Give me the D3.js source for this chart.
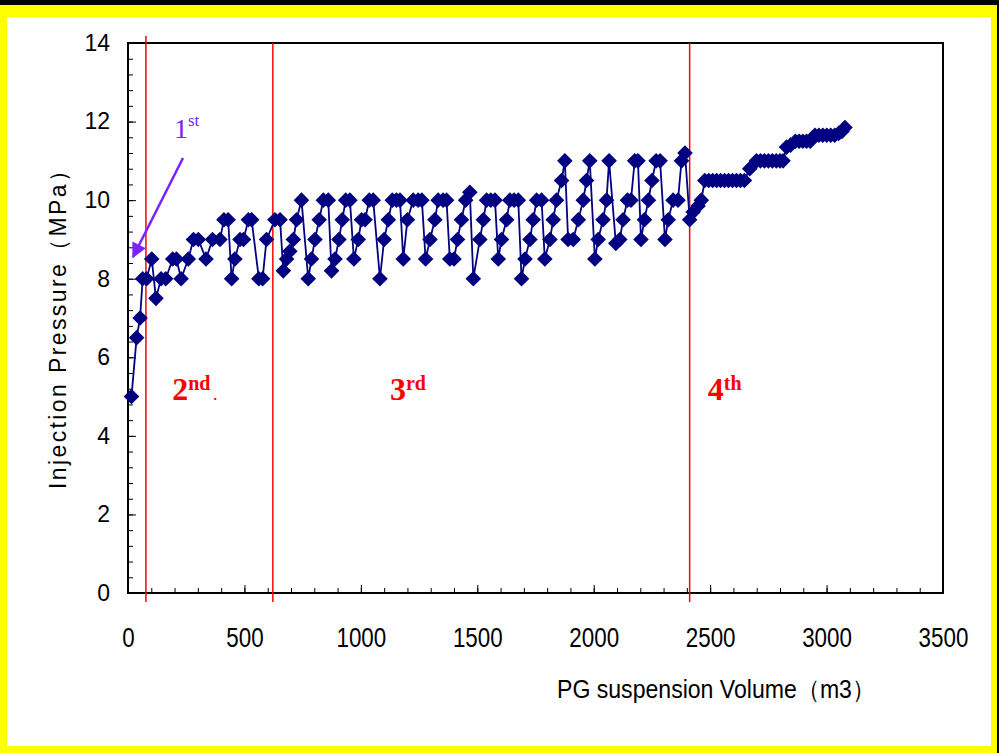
<!DOCTYPE html>
<html>
<head>
<meta charset="utf-8">
<script src="https://cdn.jsdelivr.net/npm/d3@7"></script>
<style>
  body { margin: 0; background: #000; }
  svg { display: block; }
</style>
</head>
<body>
<div class="container"></div>
<script>
// injected PG suspension volume (m3) and wellhead pressure (MPa)
var volume = [
  15, 37, 52, 63, 80,
  102, 120, 142, 162, 192, 208, 228, 259, 281, 302, 335, 363, 395, 412, 430, 445,
  459, 481, 496, 517, 531, 562, 578, 595, 631, 653,
  667, 681, 695, 710, 724, 745,
  774, 788, 803, 821, 839, 860,
  874, 889, 906, 920, 935, 953,
  970, 989, 1003, 1018, 1036, 1053,
  1082, 1100, 1118, 1135, 1153, 1168,
  1182, 1200, 1225, 1246, 1262,
  1278, 1297, 1318, 1332, 1353, 1368,
  1382, 1400, 1415, 1432, 1450, 1468,
  1483, 1511, 1526, 1540, 1558, 1576,
  1590, 1604, 1626, 1640, 1658, 1676,
  1690, 1705, 1726, 1740, 1755, 1776,
  1790, 1812, 1826, 1840, 1862, 1876,
  1890, 1912, 1934, 1955, 1969, 1983,
  2005, 2019, 2040, 2055, 2066,
  2095, 2112, 2126, 2145, 2160, 2176, 2190,
  2203, 2218, 2235, 2250, 2268, 2285,
  2306, 2320, 2341, 2362, 2377, 2392,
  2412, 2427, 2448, 2462, 2477,
  2494, 2511, 2528, 2545, 2562, 2579, 2596, 2613, 2630, 2647,
  2670, 2699, 2716, 2733, 2750, 2767, 2784, 2800, 2813,
  2828, 2845, 2866, 2882, 2898, 2914, 2930,
  2950, 2967, 2984, 3001, 3018, 3035, 3052,
  3066, 3079
];
var pressure = [
  5.0, 6.5, 7.0, 8.0, 8.0,
  8.5, 7.5, 8.0, 8.0, 8.5, 8.5, 8.0, 8.5, 9.0, 9.0, 8.5, 9.0, 9.0, 9.5, 9.5, 8.0,
  8.5, 9.0, 9.0, 9.5, 9.5, 8.0, 8.0, 9.0, 9.5, 9.5,
  8.2, 8.5, 8.7, 9.0, 9.5, 10.0,
  8.0, 8.5, 9.0, 9.5, 10.0, 10.0,
  8.2, 8.5, 9.0, 9.5, 10.0, 10.0,
  8.5, 9.0, 9.5, 9.5, 10.0, 10.0,
  8.0, 9.0, 9.5, 10.0, 10.0, 10.0,
  8.5, 9.5, 10.0, 10.0, 10.0,
  8.5, 9.0, 9.5, 10.0, 10.0, 10.0,
  8.5, 8.5, 9.0, 9.5, 10.0, 10.2,
  8.0, 9.0, 9.5, 10.0, 10.0, 10.0,
  8.5, 9.0, 9.5, 10.0, 10.0, 10.0,
  8.0, 8.5, 9.0, 9.5, 10.0, 10.0,
  8.5, 9.0, 9.5, 10.0, 10.5, 11.0,
  9.0, 9.0, 9.5, 10.0, 10.5, 11.0,
  8.5, 9.0, 9.5, 10.0, 11.0,
  8.9, 9.0, 9.5, 10.0, 10.0, 11.0, 11.0,
  9.0, 9.5, 10.0, 10.5, 11.0, 11.0,
  9.0, 9.5, 10.0, 10.0, 11.0, 11.2,
  9.5, 9.7, 9.85, 10.0, 10.5,
  10.5, 10.5, 10.5, 10.5, 10.5, 10.5, 10.5, 10.5, 10.5, 10.5,
  10.8, 11.0, 11.0, 11.0, 11.0, 11.0, 11.0, 11.0, 11.0,
  11.35, 11.4, 11.5, 11.5, 11.5, 11.5, 11.5,
  11.65, 11.65, 11.65, 11.65, 11.65, 11.65, 11.7,
  11.75, 11.85
];

var xTicks = [0, 500, 1000, 1500, 2000, 2500, 3000, 3500];
var yTicks = [0, 2, 4, 6, 8, 10, 12, 14];

// stage boundaries (m3) and stage labels
var stageLines = [77, 622, 2412];
var stageNames = ["2", "3", "4"];
var stageSups = ["nd", "rd", "th"];
var stageAt = [190, 1125, 2490];

var W = 999, H = 753;
var svg = d3.select('.container').append('svg')
    .attr('width', W).attr('height', H);

// slide border: black top, yellow frame, white page
svg.append('rect').attr('width', W).attr('height', H).attr('fill', '#000');
svg.append('rect').attr('x', 0).attr('y', 5).attr('width', 997).attr('height', H - 5).attr('fill', '#ffff00');
svg.append('rect').attr('x', 7).attr('y', 17).attr('width', 984).attr('height', 729).attr('fill', '#fff');

var x = d3.scaleLinear().domain([0, 3500]).range([128, 943]);
var y = d3.scaleLinear().domain([0, 14]).range([593, 43]);

// minor ticks
svg.append('g')
    .attr('transform', 'translate(0,593)')
    .call(d3.axisBottom(x).tickValues(d3.range(0, 3501, 100)).tickSize(-5).tickFormat(''))
    .call(function(g) { g.select('.domain').remove(); });
svg.append('g')
    .attr('transform', 'translate(128,0)')
    .call(d3.axisLeft(y).tickValues(d3.range(0, 14.01, 0.4)).tickSize(-5).tickFormat(''))
    .call(function(g) { g.select('.domain').remove(); });

// major ticks + labels
var xAxis = svg.append('g')
    .attr('transform', 'translate(0,593)')
    .call(d3.axisBottom(x).tickValues(xTicks).tickSize(-8).tickPadding(34).tickFormat(d3.format('d')));
xAxis.select('.domain').remove();
xAxis.selectAll('text')
    .attr('font-family', '"Liberation Sans", Arial, sans-serif')
    .attr('font-size', 28).attr('fill', '#000')
    .attr('transform', 'scale(0.8,1)');

var yAxis = svg.append('g')
    .attr('transform', 'translate(128,0)')
    .call(d3.axisLeft(y).tickValues(yTicks).tickSize(-8).tickPadding(18));
yAxis.select('.domain').remove();
yAxis.selectAll('text')
    .attr('font-family', '"Liberation Sans", Arial, sans-serif')
    .attr('font-size', 23).attr('fill', '#000');

svg.selectAll('.tick line').attr('stroke', '#000').attr('stroke-width', 1);

// plot frame
svg.append('rect')
    .attr('x', 128).attr('y', 43).attr('width', 815).attr('height', 550)
    .attr('fill', 'none').attr('stroke', '#000').attr('stroke-width', 2);

// stage dividers
svg.selectAll('line.stage').data(stageLines).enter().append('line')
    .attr('class', 'stage')
    .attr('x1', function(d) { return x(d); })
    .attr('x2', function(d) { return x(d); })
    .attr('y1', function(d, i) { return i == 0 ? 36 : 43; })
    .attr('y2', 602)
    .attr('stroke', '#ff0000').attr('stroke-width', 1.5);

// series
var pts = volume.map(function(v, i) { return [v, pressure[i]]; });
var line = d3.line()
    .x(function(d) { return x(d[0]); })
    .y(function(d) { return y(d[1]); });

svg.append('path')
    .datum(pts)
    .attr('d', line)
    .attr('fill', 'none')
    .attr('stroke', '#000080')
    .attr('stroke-width', 1.8);

svg.selectAll('path.pt').data(pts).enter().append('path')
    .attr('class', 'pt')
    .attr('d', 'M0,-7.8L7.8,0L0,7.8L-7.8,0Z')
    .attr('transform', function(d) { return 'translate(' + x(d[0]) + ',' + y(d[1]) + ')'; })
    .attr('fill', '#000080');

// stage labels
var stg = svg.selectAll('text.stg').data(stageNames).enter().append('text')
    .attr('class', 'stg')
    .attr('x', function(d, i) { return x(stageAt[i]); })
    .attr('y', 400)
    .attr('font-family', '"Liberation Serif", "Times New Roman", serif')
    .attr('font-weight', 'bold')
    .attr('fill', '#ff0000')
    .attr('font-size', 32);
stg.append('tspan').text(function(d) { return d; });
stg.append('tspan').attr('dy', -10).attr('font-size', 20)
    .text(function(d, i) { return stageSups[i]; });
svg.append('text')
    .attr('x', 213).attr('y', 400)
    .attr('font-family', '"Liberation Serif", serif')
    .attr('font-size', 18).attr('fill', '#ff0000')
    .text('.');

// 1st annotation + arrow
var purple = '#7a22ff';
var t1 = svg.append('text')
    .attr('x', 174).attr('y', 138)
    .attr('font-family', '"Liberation Serif", "Times New Roman", serif')
    .attr('font-size', 28).attr('fill', purple);
t1.append('tspan').text('1');
t1.append('tspan').attr('dy', -12).attr('font-size', 17).text('st');

svg.append('defs').append('marker')
    .attr('id', 'arr')
    .attr('viewBox', '0 0 10 10')
    .attr('refX', 9).attr('refY', 5)
    .attr('markerWidth', 7).attr('markerHeight', 6)
    .attr('markerUnits', 'strokeWidth')
    .attr('orient', 'auto')
    .append('path').attr('d', 'M0,0L10,5L0,10Z').attr('fill', purple);

svg.append('line')
    .attr('x1', 183).attr('y1', 158).attr('x2', 133).attr('y2', 257)
    .attr('stroke', purple).attr('stroke-width', 2.5)
    .attr('marker-end', 'url(#arr)');

// axis titles
svg.append('text')
    .attr('transform', 'translate(66,324) rotate(-90)')
    .attr('text-anchor', 'middle')
    .attr('font-family', '"Liberation Sans", Arial, sans-serif')
    .attr('font-size', 23)
    .attr('textLength', 330).attr('lengthAdjust', 'spacing')
    .text('Injection Pressure（MPa）');

svg.append('text')
    .attr('x', 557).attr('y', 698)
    .attr('font-family', '"Liberation Sans", Arial, sans-serif')
    .attr('font-size', 25)
    .attr('textLength', 318).attr('lengthAdjust', 'spacingAndGlyphs')
    .text('PG suspension Volume（m3）');
</script>
</body>
</html>
